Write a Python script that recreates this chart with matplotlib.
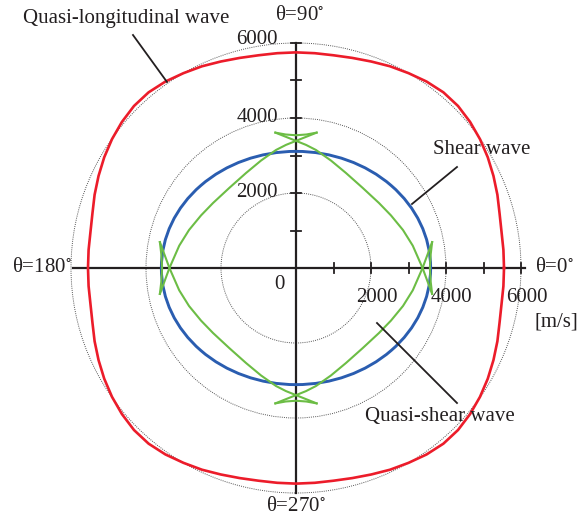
import numpy as np
import matplotlib
matplotlib.use("Agg")
import matplotlib.pyplot as plt
from matplotlib.patches import Ellipse, Circle

plt.rcParams["font.family"] = ["Liberation Serif", "DejaVu Serif"]
plt.rcParams["mathtext.fontset"] = "stix"

# velocities in m/s (first quadrant, angle in degrees)
ql_deg = [0, 5, 10, 15, 20, 25, 30, 35, 40, 45, 50, 55, 60, 65, 70, 75, 80, 85, 90]
ql_r = [5547, 5552, 5565, 5620, 5715, 5810, 5905, 5990, 6060, 6110, 6115,
        6070, 6000, 5935, 5860, 5800, 5760, 5750, 5750]

shear_ax = 3590  # semi-axis along theta=0
shear_ay = 3110  # semi-axis along theta=90

# quasi-shear main arc between the axis crossings (first quadrant)
qs_x = [3375, 3114, 2853, 2533, 2213, 1773, 1333, 933, 533, 267, 0]
qs_y = [0, 595, 1013, 1402, 1733, 2141, 2533, 2865, 3147, 3283, 3390]
# arc continues past each crossing out to a cusp
qs_cusp_side = (3630, 690)
qs_cusp_top = (550, 3610)
# short concave pieces joining the cusps
qs_side_x = [3630, 3590, 3570, 3590, 3630]
qs_side_y = [-690, -350, 0, 350, 690]
qs_top_x = [-550, -275, 0, 275, 550]
qs_top_y = [3610, 3560, 3540, 3560, 3610]

rings = [2000, 4000, 6000]
ticks = [1000, 2000, 3000, 4000, 5000, 6000]
tick_labels = ["2000", "4000", "6000"]

red = "#ec1c2a"
blue = "#2a5db0"
green = "#6cbd45"
ink = "#231f20"

W, H, DPI = 587, 520, 100
cx, cy, s = 296, 268, 37.5  # centre pixel, px per 1000 m/s

fig = plt.figure(figsize=(W / DPI, H / DPI), dpi=DPI)
ax = fig.add_axes([0, 0, 1, 1])
ax.set_xlim(-cx / s * 1000, (W - cx) / s * 1000)
ax.set_ylim((cy - H) / s * 1000, cy / s * 1000)
ax.axis("off")

for r in rings:
    ax.add_patch(Circle((0, 0), r, fill=False, ls=(0, (1, 1.2)), lw=0.7,
                        ec="#555555", zorder=1))

# axes with ticks on the positive side only
ax.plot([-5950, 6100], [0, 0], color=ink, lw=1.6, zorder=2)
ax.plot([0, 0], [-6000, 6000], color=ink, lw=1.6, zorder=2)
tl = 5 / s * 1000
for t in ticks:
    ax.plot([t, t], [-tl * 0.95, tl * 0.95], color=ink, lw=1.3, zorder=2)
    ax.plot([-tl, tl], [t, t], color=ink, lw=1.3, zorder=2)

# quasi-longitudinal, mirrored into the other quadrants
a = np.radians(ql_deg)
qx = np.array(ql_r) * np.cos(a)
qy = np.array(ql_r) * np.sin(a)
rx = np.concatenate([qx, -qx[::-1], -qx, qx[::-1]])
ry = np.concatenate([qy, qy[::-1], -qy, -qy[::-1]])
ax.plot(rx, ry, color=red, lw=1.9, zorder=3, solid_joinstyle="round")

ax.add_patch(Ellipse((0, 0), 2 * shear_ax, 2 * shear_ay, fill=False,
                     ec=blue, lw=2.1, zorder=4))

# quasi-shear
gx = np.concatenate([[qs_cusp_side[0]], qs_x, [-qs_cusp_top[0]]]).astype(float)
gy = np.concatenate([[-qs_cusp_side[1]], qs_y, [qs_cusp_top[1]]]).astype(float)
sx, sy = np.array(qs_side_x, float), np.array(qs_side_y, float)
tx, ty = np.array(qs_top_x, float), np.array(qs_top_y, float)
for mx in (1, -1):
    for my in (1, -1):
        ax.plot(mx * gx, my * gy, color=green, lw=1.5, zorder=5,
                solid_joinstyle="round")
    ax.plot(mx * sx, sy, color=green, lw=1.5, zorder=5)
    ax.plot(tx, mx * ty, color=green, lw=1.5, zorder=5)

fs = 15
kw = dict(color=ink, fontsize=fs)

# tick labels
for lab, t in zip(tick_labels, [2000, 4000, 6000]):
    ax.text(t + 150, -780, lab, ha="center", va="center", **kw)
    ax.text(-480, t + (80 if t == 6000 else 0), lab, ha="right", va="center", **kw)
ax.text(-450, -430, "0", ha="center", va="center", **kw)
ax.text(6950, -1440, "[m/s]", ha="center", va="center", **kw)

deg = r"$^{\circ}$"
ax.text(6380, 0, "θ=0" + deg, ha="left", va="center", **kw)
ax.text(-5980, 0, "θ=180" + deg, ha="right", va="center", **kw)
ax.text(110, 6720, "θ=90" + deg, ha="center", va="center", **kw)
ax.text(0, -6370, "θ=270" + deg, ha="center", va="center", **kw)

# labels with leader lines
ax.text(-4530, 6640, "Quasi-longitudinal wave", ha="center", va="center", **kw)
ax.plot([-4347, -3440], [6213, 4960], color=ink, lw=1.3, zorder=6)
ax.text(4960, 3147, "Shear wave", ha="center", va="center", **kw)
ax.plot([3093, 4293], [1707, 2693], color=ink, lw=1.3, zorder=6)
ax.text(3840, -3973, "Quasi-shear wave", ha="center", va="center", **kw)
ax.plot([2160, 4293], [-1467, -3600], color=ink, lw=1.3, zorder=6)

fig.savefig("out.png", dpi=DPI)
